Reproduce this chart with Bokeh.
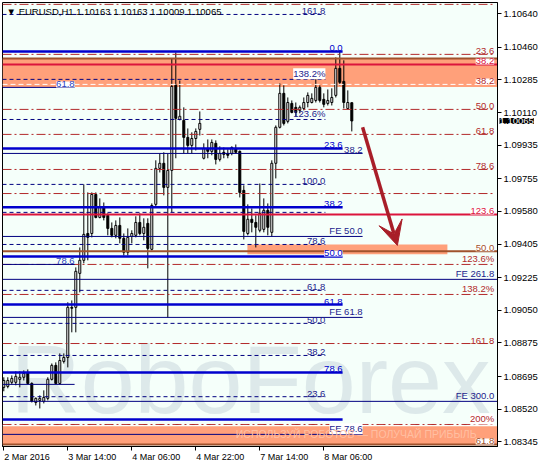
from bokeh.plotting import figure
from bokeh.models import Range1d, FixedTicker, PrintfTickFormatter, Label, Arrow, VeeHead, LinearAxis
from bokeh.embed import file_html
from bokeh.resources import INLINE

# ---------------- data (EURUSD H1) ----------------
opens = [1.08637, 1.08642, 1.08664, 1.08664, 1.08680, 1.08691, 1.08717, 1.08658, 1.08556, 1.08567,
         1.08562, 1.08578, 1.08680, 1.08755, 1.08658, 1.08776, 1.08797, 1.09066, 1.09066, 1.09248,
         1.09318, 1.09462, 1.09462, 1.09671, 1.09548, 1.09602, 1.09559, 1.09489, 1.09452, 1.09505,
         1.09436, 1.09361, 1.09446, 1.09452, 1.09521, 1.09462, 1.09516, 1.09377, 1.09618, 1.09811,
         1.09838, 1.09709, 1.09800, 1.10256, 1.10073, 1.10068, 1.09977, 1.09934, 1.09971, 1.10020,
         1.09865, 1.09918, 1.09902, 1.09945, 1.09859, 1.09897, 1.09891, 1.09891, 1.09918, 1.09902,
         1.09693, 1.09462, 1.09538, 1.09521, 1.09479, 1.09484, 1.09586, 1.09468, 1.09838, 1.10031,
         1.10213, 1.10063, 1.10159, 1.10138, 1.10122, 1.10132, 1.10164, 1.10164, 1.10175, 1.10245,
         1.10181, 1.10159, 1.10164, 1.10202, 1.10347, 1.10277, 1.10132, 1.10163]
highs = [1.08691, 1.08691, 1.08701, 1.08723, 1.08723, 1.08728, 1.08733, 1.08664, 1.08583, 1.08594,
         1.08621, 1.08691, 1.08765, 1.08771, 1.08819, 1.08819, 1.09093, 1.09103, 1.09280, 1.09387,
         1.09725, 1.09682, 1.09682, 1.09682, 1.09650, 1.09628, 1.09570, 1.09521, 1.09532, 1.09548,
         1.09462, 1.09489, 1.09479, 1.09554, 1.09570, 1.09543, 1.09543, 1.09623, 1.09854, 1.09891,
         1.09897, 1.09891, 1.10400, 1.10432, 1.10282, 1.10138, 1.10025, 1.10004, 1.10025, 1.10116,
         1.09945, 1.09966, 1.09966, 1.09961, 1.09929, 1.09923, 1.09913, 1.09929, 1.09939, 1.09907,
         1.09720, 1.09618, 1.09596, 1.09559, 1.09730, 1.09650, 1.09623, 1.09854, 1.10041, 1.10266,
         1.10256, 1.10191, 1.10175, 1.10164, 1.10148, 1.10191, 1.10218, 1.10213, 1.10293, 1.10256,
         1.10213, 1.10234, 1.10240, 1.10406, 1.10440, 1.10390, 1.10229, 1.10163]
lows = [1.08616, 1.08632, 1.08653, 1.08648, 1.08637, 1.08674, 1.08653, 1.08556, 1.08540, 1.08524,
        1.08551, 1.08567, 1.08674, 1.08653, 1.08653, 1.08765, 1.08744, 1.08932, 1.08932, 1.09146,
        1.09302, 1.09318, 1.09441, 1.09543, 1.09543, 1.09532, 1.09452, 1.09441, 1.09436, 1.09409,
        1.09344, 1.09344, 1.09409, 1.09441, 1.09452, 1.09425, 1.09275, 1.09371, 1.09602, 1.09789,
        1.09666, 1.09012, 1.09575, 1.09865, 1.10068, 1.09891, 1.09891, 1.09891, 1.09907, 1.09987,
        1.09859, 1.09865, 1.09881, 1.09832, 1.09848, 1.09865, 1.09865, 1.09881, 1.09891, 1.09655,
        1.09430, 1.09452, 1.09468, 1.09387, 1.09468, 1.09468, 1.09452, 1.09446, 1.09757, 1.10025,
        1.10041, 1.10052, 1.10106, 1.10090, 1.10106, 1.10122, 1.10138, 1.10159, 1.10164, 1.10164,
        1.10138, 1.10148, 1.10148, 1.10191, 1.10256, 1.10132, 1.10127, 1.10009]
closes = [1.08674, 1.08674, 1.08685, 1.08696, 1.08691, 1.08712, 1.08658, 1.08562, 1.08578, 1.08578,
          1.08583, 1.08680, 1.08755, 1.08658, 1.08781, 1.08797, 1.09066, 1.09061, 1.09259, 1.09318,
          1.09457, 1.09441, 1.09671, 1.09548, 1.09602, 1.09548, 1.09489, 1.09452, 1.09505, 1.09436,
          1.09361, 1.09441, 1.09462, 1.09521, 1.09462, 1.09495, 1.09382, 1.09612, 1.09811, 1.09838,
          1.09709, 1.09800, 1.10250, 1.10079, 1.10090, 1.09977, 1.09934, 1.09971, 1.10009, 1.10052,
          1.09918, 1.09902, 1.09950, 1.09859, 1.09891, 1.09886, 1.09881, 1.09923, 1.09897, 1.09682,
          1.09473, 1.09538, 1.09521, 1.09495, 1.09570, 1.09586, 1.09495, 1.09838, 1.10031, 1.10213,
          1.10052, 1.10164, 1.10111, 1.10111, 1.10138, 1.10164, 1.10202, 1.10186, 1.10245, 1.10175,
          1.10154, 1.10175, 1.10191, 1.10347, 1.10272, 1.10164, 1.10164, 1.10065]

x_ticks = [0, 16, 32, 48, 64, 80]
x_tick_labels = ["2 Mar 2016", "3 Mar 14:00", "4 Mar 06:00", "4 Mar 22:00", "7 Mar 14:00", "8 Mar 06:00"]
y_ticks = [1.10640, 1.10460, 1.10285, 1.10110, 1.09935, 1.09755, 1.09580, 1.09405,
           1.09225, 1.09050, 1.08875, 1.08695, 1.08520, 1.08345]

title_text = "\u25bc EURUSD,H1  1.10163 1.10163 1.10009 1.10065"
last_price = 1.10065

# Fibonacci / level lines
dashdot_levels = [1.10690, 1.10422, 1.10127, 1.09993, 1.09805, 1.09676, 1.09296, 1.09135, 1.08872, 1.08438]
dashdot_labels = ["", "23.6", "50.0", "61.8", "78.6", "", "123.6%", "138.2%", "161.8", "200%"]
white_dash_levels = [1.10261, 1.08433]
white_dash_labels = ["38.2", ""]
navy_dash_levels = [1.10636, 1.10288, 1.10073, 1.09725, 1.09575, 1.09403, 1.09157, 1.08980, 1.08808, 1.08587]
navy_dash_labels = ["161.8", "138.2%", "123.6%", "100.0", "", "78.6", "61.8", "50.0", "38.2", "23.6"]
blue_levels = [1.10438, 1.09918, 1.09602, 1.09339, 1.09081, 1.08717, 1.08465]
blue_labels = ["0.0", "23.6", "38.2", "50.0", "61.8", "78.6", ""]
fe_levels = [1.09891, 1.09446, 1.09012, 1.08385]
fe_labels = ["38.2", "FE 50.0", "FE 61.8", "FE 78.6"]
fe_full_levels = [1.09216, 1.08562]
fe_full_labels = ["FE 261.8", "FE 300.0"]
short_levels = [1.10245, 1.09296, 1.08653]
short_labels = ["61.8", "78.6", ""]
crimson_levels = [1.10368, 1.09564]
crimson_labels = ["38.2", "123.6"]
brown_levels = [1.10400, 1.09366, 1.08331]
brown_labels = ["", "50.0", "61.8"]

# zones: (left, right, top, bottom)
zone_left = [None, None, 60.9]
zone_right = [None, None, 110.9]
zone_top = [1.10400, 1.08428, 1.09403]
zone_bottom = [1.10247, 1.08331, 1.09350]

arrow_start = (89.7, 1.10031)
arrow_end = (98.4, 1.09398)

# ---------------- figure ----------------
XLO, XHI = -0.325, 123.425
YLO, YHI = 1.08320, 1.10700
FRAME_W = 495
PX_PER_BAR = FRAME_W / (XHI - XLO)
FONT = "Liberation Sans"
FS = "9.5px"
XFS = 9.0

p = figure(frame_width=FRAME_W, frame_height=444, x_range=Range1d(XLO, XHI), y_range=Range1d(YLO, YHI),
           output_backend="svg", toolbar_location=None, y_axis_location="right", title=None,
           min_border_left=2, min_border_top=2, min_border_right=0, min_border_bottom=0,
           background_fill_color="#f5fffa", border_fill_color="white")
p.xgrid.visible = False
p.ygrid.visible = False
p.outline_line_color = "black"
p.outline_line_width = 1

p.yaxis.ticker = FixedTicker(ticks=y_ticks)
p.yaxis.formatter = PrintfTickFormatter(format="%.5f")
p.yaxis.major_tick_out = 4
p.yaxis.major_tick_in = 0
p.yaxis.minor_tick_out = 0
p.yaxis.minor_tick_in = 0
p.yaxis.axis_line_color = "black"
p.yaxis.major_label_text_font = FONT
p.yaxis.major_label_text_font_size = FS
p.yaxis.major_label_text_color = "black"
p.yaxis.major_label_standoff = 2

# bottom axis: tick marks only
p.xaxis.ticker = FixedTicker(ticks=x_ticks)
p.xaxis.major_label_overrides = {t: "" for t in x_ticks}
p.xaxis.major_label_text_font_size = "0px"
p.xaxis.major_label_standoff = 0
p.xaxis.major_tick_out = 4
p.xaxis.major_tick_in = 0
p.xaxis.minor_tick_out = 0
p.xaxis.minor_tick_in = 0
p.xaxis.axis_line_color = "black"

# second bottom axis: labels that start at the tick (MT4 style, left aligned)
EM = {" ": 0.278, ":": 0.278, "M": 0.833, "a": 0.556, "r": 0.333}
def text_width_px(s, size):
    return sum(EM.get(ch, 0.556) for ch in s) * size

label_pos = [round(t + text_width_px(s, XFS) / 2 / PX_PER_BAR + 0.1, 3) for t, s in zip(x_ticks, x_tick_labels)]
lab_axis = LinearAxis(ticker=FixedTicker(ticks=label_pos),
                      major_label_overrides={v: s for v, s in zip(label_pos, x_tick_labels)},
                      major_tick_out=0, major_tick_in=0, minor_tick_out=0, minor_tick_in=0,
                      axis_line_color=None, major_label_standoff=1,
                      major_label_text_font=FONT, major_label_text_font_size=f"{XFS}px",
                      major_label_text_color="black")
p.add_layout(lab_axis, "below")

# watermark
p.add_layout(Label(x=1.7, y=1.08680, text="RoboForex", text_font=FONT, text_font_size="97px",
                   text_color="#dde9ea", text_baseline="middle", level="underlay"))

# zones
zl = [XLO if v is None else v for v in zone_left]
zr = [XHI if v is None else v for v in zone_right]
p.quad(left=zl, right=zr, top=zone_top, bottom=zone_bottom, fill_color="#ffa07a", line_color=None)

# candles
idx = list(range(len(opens)))
p.segment(x0=idx, y0=lows, x1=idx, y1=highs, line_color="black", line_width=1)
up = [i for i in idx if closes[i] >= opens[i]]
dn = [i for i in idx if closes[i] < opens[i]]
p.vbar(x=up, width=0.5, top=[closes[i] for i in up], bottom=[opens[i] for i in up],
       fill_color="white", line_color="black", line_width=1)
p.vbar(x=dn, width=0.5, top=[opens[i] for i in dn], bottom=[closes[i] for i in dn],
       fill_color="black", line_color="black", line_width=1)

# lines
def hlines(levels, x0, x1, color, width, dash="solid"):
    p.segment(x0=[x0] * len(levels), x1=[x1] * len(levels), y0=levels, y1=levels,
              line_color=color, line_width=width, line_dash=dash)

DR = "#b22a2a"
NAVY = "#000080"
BLUE = "#0000cd"
CRIMSON = "#dc143c"
BROWN = "#a0522d"

X_DASH_END = 80.4
X_BLUE_END = 84.7
X_FE_END = 89.7
X_SHORT_END = 17.7
X_RIGHT_LAB = 122.6

hlines(brown_levels, XLO, XHI, BROWN, 2)
hlines(dashdot_levels, XLO, 122.4, DR, 1, "9 3 2 3")
hlines(white_dash_levels, XLO, XHI, "white", 1, "5 3")
hlines(navy_dash_levels, XLO, X_DASH_END, NAVY, 1, "4 3")
hlines(blue_levels, XLO, X_BLUE_END, BLUE, 2.5)
hlines(fe_levels, XLO, X_FE_END, NAVY, 1)
hlines(fe_full_levels, XLO, XHI, NAVY, 1)
hlines(short_levels, XLO, X_SHORT_END, NAVY, 1)
hlines(crimson_levels, XLO, XHI, CRIMSON, 2)

# arrow
p.add_layout(Arrow(end=VeeHead(size=24, fill_color="#a81e28", line_color="#a81e28"),
                   x_start=arrow_start[0], y_start=arrow_start[1], x_end=arrow_end[0], y_end=arrow_end[1],
                   line_color="#a81e28", line_width=3.5))

def make_label(x, y, text, color, align="right", bg=None, baseline="bottom", size=FS, xoff=0, yoff=0):
    kw = dict(x=x, y=y, text=text, text_color=color, text_align=align, text_baseline=baseline,
              text_font=FONT, text_font_size=size, x_offset=xoff, y_offset=yoff)
    if bg:
        kw["background_fill_color"] = bg
    return Label(**kw)

def lab(x, y, text, color, **kw):
    if text:
        p.add_layout(make_label(x, y, text, color, **kw))

for v, t in zip(navy_dash_levels, navy_dash_labels):
    lab(X_DASH_END, v, t, "#1c1c8c", bg="white" if t == "138.2%" else None)
for v, t in zip(blue_levels, blue_labels):
    lab(X_BLUE_END, v, t, BLUE, bg="white" if t == "50.0" else None)
for v, t in zip(fe_levels, fe_labels):
    lab(X_FE_END, v, t, "#1c1c8c", bg="white" if t == "FE 78.6" else None)
for v, t in zip(short_levels, short_labels):
    lab(X_SHORT_END, v, t, "#2a3fbf", bg="white" if t == "61.8" else None)
for v, t in zip(dashdot_levels, dashdot_labels):
    lab(X_RIGHT_LAB, v, t, DR, bg="white" if t == "200%" else None)
for v, t in zip(white_dash_levels, white_dash_labels):
    lab(X_RIGHT_LAB, v, t, DR, bg="white")
for v, t in zip(fe_full_levels, fe_full_labels):
    lab(X_RIGHT_LAB, v, t, "#1c1c8c")
for v, t in zip(crimson_levels, crimson_labels):
    lab(X_RIGHT_LAB, v, t, CRIMSON, bg="white")
for v, t in zip(brown_levels, brown_labels):
    lab(X_RIGHT_LAB, v, t, BROWN, bg="white")

# faint slogan on lower zone
lab(58.0, 1.08385, "\u0418\u0421\u041f\u041e\u041b\u042c\u0417\u0423\u0419 \u0420\u041e\u0411\u041e\u0422\u041e\u0412 \u2014 \u041f\u041e\u041b\u0423\u0427\u0410\u0419 \u041f\u0420\u0418\u0411\u042b\u041b\u042c",
    "#ffbfa2", align="left", baseline="middle", size="10.5px")

# title
lab(0.7, 1.10652, title_text, "black", align="left", baseline="middle")

# last price tag: placed in the right side panel so that it is not clipped by the frame
p.add_layout(make_label(XHI, last_price, "1.10065", "white", align="left", bg="black",
                        baseline="middle", xoff=2), "right")

open("out.html", "w").write(file_html(p, INLINE))
